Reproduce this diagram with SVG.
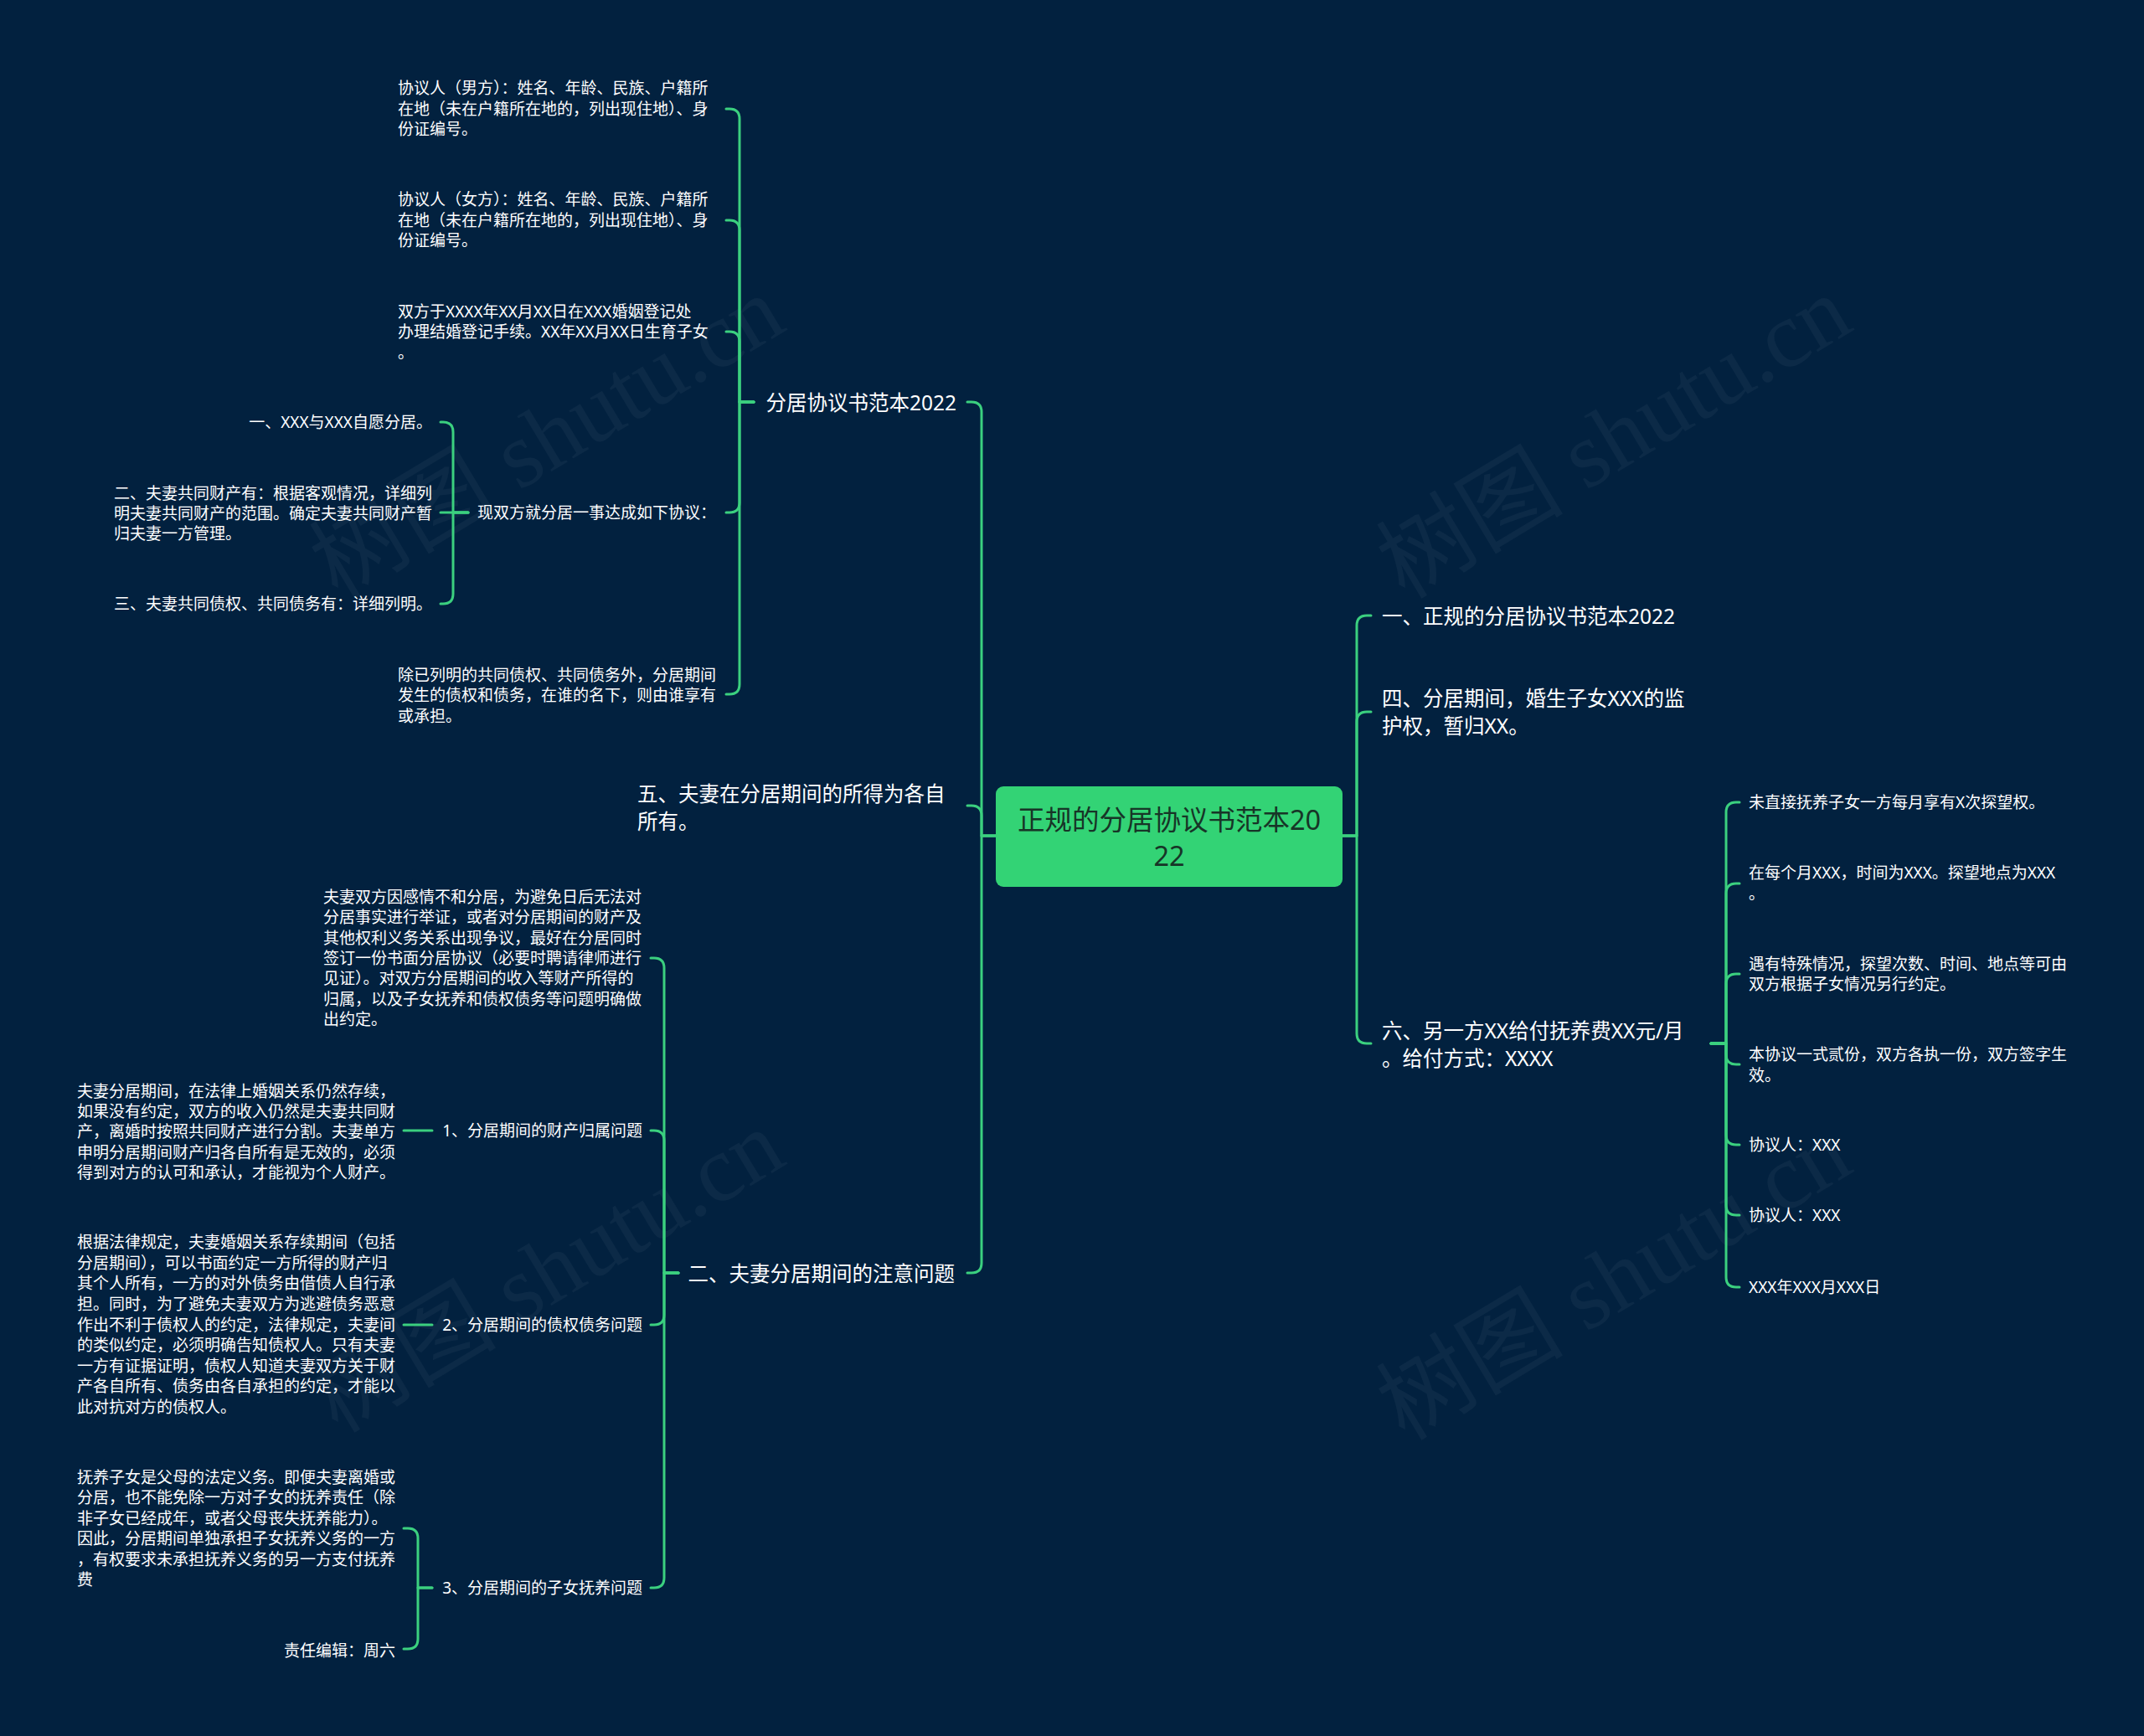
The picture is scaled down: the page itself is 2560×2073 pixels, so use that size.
<svg xmlns="http://www.w3.org/2000/svg" width="2560" height="2073" viewBox="0 0 2560 2073">
<style>
.bg{fill:#02213f}
.c{fill:none;stroke:#3bd07f;stroke-width:3;stroke-linecap:round;stroke-linejoin:round}
text{font-family:"Noto Sans","Noto Sans CJK SC",sans-serif;fill:#ffffff;dominant-baseline:central}
.t1{font-size:24.5px}
.t2{font-size:19px}
.rt{font-size:32.5px;fill:#173527;text-anchor:middle}
.e{text-anchor:end}
.wm{font-family:"Liberation Serif","Noto Sans CJK SC",serif;font-size:112px;fill:#ffffff;fill-opacity:0.045;text-anchor:middle}
</style>
<rect class="bg" x="0" y="0" width="2560" height="2073"/>
<g id="watermarks">
<text class="wm" transform="translate(653,522) rotate(-31)">树图 shutu.cn</text>
<text class="wm" transform="translate(1927,522) rotate(-31)">树图 shutu.cn</text>
<text class="wm" transform="translate(653,1518) rotate(-31)">树图 shutu.cn</text>
<text class="wm" transform="translate(1927,1527) rotate(-31)">树图 shutu.cn</text>
</g>
<g id="connectors">
<path class="c" d="M1189,998 H1172 V492 Q1172,480 1160,480 H1155"/>
<path class="c" d="M1189,998 H1172 V974 Q1172,962 1160,962 H1155"/>
<path class="c" d="M1189,998 H1172 V1508 Q1172,1520 1160,1520 H1155"/>
<path class="c" d="M1603,998 H1620 V747 Q1620,735 1632,735 H1637"/>
<path class="c" d="M1603,998 H1620 V862 Q1620,850 1632,850 H1637"/>
<path class="c" d="M1603,998 H1620 V1234 Q1620,1246 1632,1246 H1637"/>
<path class="c" d="M2043,1246 H2061 V970 Q2061,958 2073,958 H2077"/>
<path class="c" d="M2043,1246 H2061 V1067 Q2061,1055 2073,1055 H2077"/>
<path class="c" d="M2043,1246 H2061 V1175 Q2061,1163 2073,1163 H2077"/>
<path class="c" d="M2043,1246 H2061 V1259 Q2061,1271 2073,1271 H2077"/>
<path class="c" d="M2043,1246 H2061 V1355 Q2061,1367 2073,1367 H2077"/>
<path class="c" d="M2043,1246 H2061 V1439 Q2061,1451 2073,1451 H2077"/>
<path class="c" d="M2043,1246 H2061 V1525 Q2061,1537 2073,1537 H2077"/>
<path class="c" d="M900,480 H883 V142 Q883,130 871,130 H867"/>
<path class="c" d="M900,480 H883 V275 Q883,263 871,263 H867"/>
<path class="c" d="M900,480 H883 V408 Q883,396 871,396 H867"/>
<path class="c" d="M900,480 H883 V600 Q883,612 871,612 H867"/>
<path class="c" d="M900,480 H883 V817 Q883,829 871,829 H867"/>
<path class="c" d="M559,612 H541 V516 Q541,504 529,504 H526"/>
<path class="c" d="M559,612 H526"/>
<path class="c" d="M559,612 H541 V709 Q541,721 529,721 H526"/>
<path class="c" d="M810,1520 H793 V1156 Q793,1144 781,1144 H777"/>
<path class="c" d="M810,1520 H793 V1362 Q793,1350 781,1350 H777"/>
<path class="c" d="M810,1520 H793 V1570 Q793,1582 781,1582 H777"/>
<path class="c" d="M810,1520 H793 V1884 Q793,1896 781,1896 H777"/>
<path class="c" d="M516,1350 H482"/>
<path class="c" d="M516,1582 H482"/>
<path class="c" d="M516,1896 H499 V1837 Q499,1825 487,1825 H482"/>
<path class="c" d="M516,1896 H499 V1957 Q499,1969 487,1969 H482"/>
</g>
<g id="root">
<rect x="1189" y="939" width="414" height="120" rx="9" fill="#33d375"/>
<text class="rt" x="1396" y="978">正规的分居协议书范本20</text>
<text class="rt" x="1396" y="1021">22</text>
</g>
<g id="n-r1"><text class="t1" x="1650" y="735">一、正规的分居协议书范本2022</text></g>
<g id="n-r2"><text class="t1" x="1650" y="833">四、分居期间，婚生子女XXX的监</text><text class="t1" x="1650" y="866">护权，暂归XX。</text></g>
<g id="n-r3"><text class="t1" x="1650" y="1230">六、另一方XX给付抚养费XX元/月</text><text class="t1" x="1650" y="1263">。给付方式：XXXX</text></g>
<g id="n-r3-1"><text class="t2" x="2088" y="958">未直接抚养子女一方每月享有X次探望权。</text></g>
<g id="n-r3-2"><text class="t2" x="2088" y="1042">在每个月XXX，时间为XXX。探望地点为XXX</text><text class="t2" x="2088" y="1067">。</text></g>
<g id="n-r3-3"><text class="t2" x="2088" y="1151">遇有特殊情况，探望次数、时间、地点等可由</text><text class="t2" x="2088" y="1175">双方根据子女情况另行约定。</text></g>
<g id="n-r3-4"><text class="t2" x="2088" y="1259">本协议一式贰份，双方各执一份，双方签字生</text><text class="t2" x="2088" y="1284">效。</text></g>
<g id="n-r3-5"><text class="t2" x="2088" y="1367">协议人：XXX</text></g>
<g id="n-r3-6"><text class="t2" x="2088" y="1451">协议人：XXX</text></g>
<g id="n-r3-7"><text class="t2" x="2088" y="1537">XXX年XXX月XXX日</text></g>
<g id="n-l1"><text class="t1 e" x="1142" y="480">分居协议书范本2022</text></g>
<g id="n-l1-1"><text class="t2" x="475" y="105">协议人（男方）：姓名、年龄、民族、户籍所</text><text class="t2" x="475" y="130">在地（未在户籍所在地的，列出现住地）、身</text><text class="t2" x="475" y="154">份证编号。</text></g>
<g id="n-l1-2"><text class="t2" x="475" y="238">协议人（女方）：姓名、年龄、民族、户籍所</text><text class="t2" x="475" y="263">在地（未在户籍所在地的，列出现住地）、身</text><text class="t2" x="475" y="287">份证编号。</text></g>
<g id="n-l1-3"><text class="t2" x="475" y="372">双方于XXXX年XX月XX日在XXX婚姻登记处</text><text class="t2" x="475" y="396">办理结婚登记手续。XX年XX月XX日生育子女</text><text class="t2" x="475" y="421">。</text></g>
<g id="n-l1-4"><text class="t2 e" x="855" y="612">现双方就分居一事达成如下协议：</text></g>
<g id="n-l1-4-1"><text class="t2 e" x="516" y="504">一、XXX与XXX自愿分居。</text></g>
<g id="n-l1-4-2"><text class="t2" x="136" y="589">二、夫妻共同财产有：根据客观情况，详细列</text><text class="t2" x="136" y="613">明夫妻共同财产的范围。确定夫妻共同财产暂</text><text class="t2" x="136" y="637">归夫妻一方管理。</text></g>
<g id="n-l1-4-3"><text class="t2 e" x="516" y="721">三、夫妻共同债权、共同债务有：详细列明。</text></g>
<g id="n-l1-5"><text class="t2" x="475" y="806">除已列明的共同债权、共同债务外，分居期间</text><text class="t2" x="475" y="830">发生的债权和债务，在谁的名下，则由谁享有</text><text class="t2" x="475" y="855">或承担。</text></g>
<g id="n-l2"><text class="t1" x="761" y="947">五、夫妻在分居期间的所得为各自</text><text class="t1" x="761" y="980">所有。</text></g>
<g id="n-l3"><text class="t1 e" x="1140" y="1520">二、夫妻分居期间的注意问题</text></g>
<g id="n-l3-0"><text class="t2" x="386" y="1071">夫妻双方因感情不和分居，为避免日后无法对</text><text class="t2" x="386" y="1095">分居事实进行举证，或者对分居期间的财产及</text><text class="t2" x="386" y="1120">其他权利义务关系出现争议，最好在分居同时</text><text class="t2" x="386" y="1144">签订一份书面分居协议（必要时聘请律师进行</text><text class="t2" x="386" y="1168">见证）。对双方分居期间的收入等财产所得的</text><text class="t2" x="386" y="1193">归属，以及子女抚养和债权债务等问题明确做</text><text class="t2" x="386" y="1217">出约定。</text></g>
<g id="n-l3-1"><text class="t2 e" x="767" y="1350">1、分居期间的财产归属问题</text></g>
<g id="n-l3-1-1"><text class="t2" x="92" y="1303">夫妻分居期间，在法律上婚姻关系仍然存续，</text><text class="t2" x="92" y="1327">如果没有约定，双方的收入仍然是夫妻共同财</text><text class="t2" x="92" y="1351">产，离婚时按照共同财产进行分割。夫妻单方</text><text class="t2" x="92" y="1376">申明分居期间财产归各自所有是无效的，必须</text><text class="t2" x="92" y="1400">得到对方的认可和承认，才能视为个人财产。</text></g>
<g id="n-l3-2"><text class="t2 e" x="767" y="1582">2、分居期间的债权债务问题</text></g>
<g id="n-l3-2-1"><text class="t2" x="92" y="1483">根据法律规定，夫妻婚姻关系存续期间（包括</text><text class="t2" x="92" y="1508">分居期间），可以书面约定一方所得的财产归</text><text class="t2" x="92" y="1532">其个人所有，一方的对外债务由借债人自行承</text><text class="t2" x="92" y="1557">担。同时，为了避免夫妻双方为逃避债务恶意</text><text class="t2" x="92" y="1582">作出不利于债权人的约定，法律规定，夫妻间</text><text class="t2" x="92" y="1606">的类似约定，必须明确告知债权人。只有夫妻</text><text class="t2" x="92" y="1631">一方有证据证明，债权人知道夫妻双方关于财</text><text class="t2" x="92" y="1655">产各自所有、债务由各自承担的约定，才能以</text><text class="t2" x="92" y="1680">此对抗对方的债权人。</text></g>
<g id="n-l3-3"><text class="t2 e" x="767" y="1896">3、分居期间的子女抚养问题</text></g>
<g id="n-l3-3-1"><text class="t2" x="92" y="1764">抚养子女是父母的法定义务。即便夫妻离婚或</text><text class="t2" x="92" y="1788">分居，也不能免除一方对子女的抚养责任（除</text><text class="t2" x="92" y="1813">非子女已经成年，或者父母丧失抚养能力）。</text><text class="t2" x="92" y="1837">因此，分居期间单独承担子女抚养义务的一方</text><text class="t2" x="92" y="1862">，有权要求未承担抚养义务的另一方支付抚养</text><text class="t2" x="92" y="1886">费</text></g>
<g id="n-l3-3-2"><text class="t2 e" x="472" y="1971">责任编辑：周六</text></g>
</svg>
